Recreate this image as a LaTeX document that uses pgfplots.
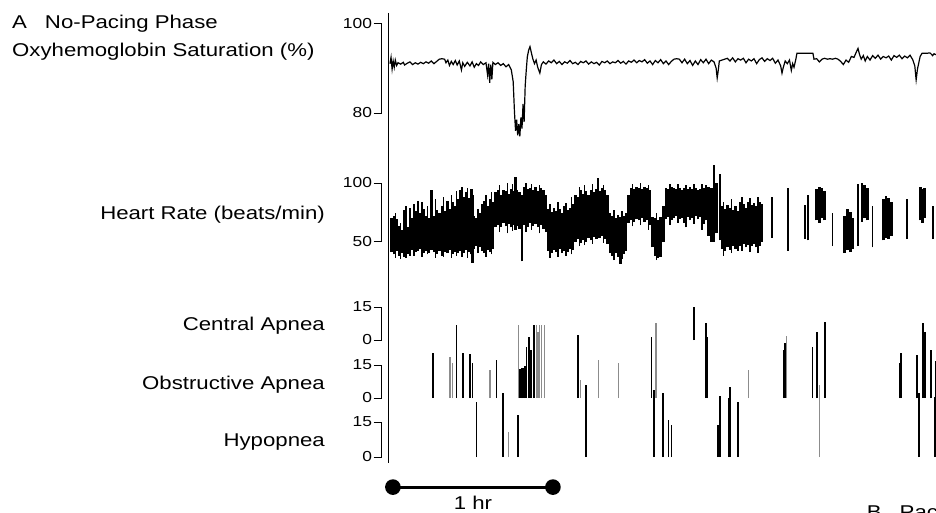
\documentclass[border=0pt]{standalone}
\usepackage{fontspec}
\setmainfont{Liberation Sans}[FakeStretch=1.2]
\usepackage{pgfplots}
\pgfplotsset{compat=1.18}
\newcommand\lab{\fontsize{18.5pt}{22pt}\selectfont}

\pgfplotsset{
  panel/.style={
    scale only axis, width=554.3pt, xmin=-3.1, xmax=204.75,
    anchor=south west, clip=false, enlargelimits=false,
    axis x line=none, axis y line*=left, xtick=\empty,
    tick align=outside, major tick length=8pt,
    axis line style={line width=0.9pt,-},
    every tick/.style={line width=0.9pt,black},
    yticklabel style={font=\fontsize{14.5pt}{16pt}\selectfont,inner sep=1.5pt},
    /pgf/number format/assume math mode=true,
  },
  dark/.style={ycomb,black,line width=1.7pt,mark=none},
  light/.style={ycomb,black!45,line width=1.1pt,mark=none},
  hr/.style={draw=none,mark=none,
    error bars/y dir=plus,error bars/y explicit,error bars/error mark=none,
    error bars/error bar style={draw=black,line width=#1}},
}

\begin{document}
\begin{tikzpicture}
\path[use as bounding box] (0,0) rectangle (936pt,512pt);

% oxyhemoglobin saturation
\begin{axis}[panel, at={(381.7pt,399pt)}, height=89.7pt, ymin=80, ymax=100, ytick={80,100}]
\addplot[black, line width=1.2pt] table[x=t, y=v] {
t v
0.0 91.0
0.4 92.4
0.8 89.8
1.2 91.6
1.6 90.2
2.0 91.8
2.5 90.6
3.0 91.2
4.0 90.9
5.0 91.3
5.5 90.7
6.5 91.1
7.5 91.4
8.5 90.8
9.5 91.2
10.5 90.9
11.5 91.3
12.5 91.0
13.5 91.4
14.5 91.1
15.5 91.6
16.5 91.0
17.5 91.5
18.5 92.0
19.5 92.1
20.5 92.0
21.0 91.2
21.7 91.8
22.3 90.6
23.0 91.5
23.7 90.8
24.5 91.7
25.2 90.7
26.0 91.6
26.8 89.6
27.3 91.2
28.0 90.4
29.0 91.3
30.0 90.5
30.8 91.4
31.6 90.2
32.4 91.0
33.2 90.6
34.0 91.4
35.0 90.8
36.0 91.2
36.6 88.5
37.0 91.0
37.4 86.7
37.8 90.8
38.2 87.5
38.6 91.3
39.5 90.8
40.5 91.2
41.5 90.6
42.5 91.0
43.5 90.3
44.5 90.8
45.5 89.6
46.2 87.0
46.7 80.0
47.1 76.0
47.5 78.5
47.9 75.0
48.3 77.5
48.7 74.8
49.1 79.0
49.5 76.5
49.9 82.0
50.3 78.0
50.7 86.0
51.1 89.5
51.5 92.5
52.0 94.0
52.5 94.8
53.0 93.5
53.6 92.0
54.2 91.0
54.8 91.8
55.4 90.2
56.2 88.9
56.8 90.8
57.5 91.4
58.5 90.9
59.5 91.6
60.5 91.2
61.5 91.8
62.5 91.0
63.5 91.5
64.5 90.8
65.5 91.4
66.5 91.1
67.5 91.7
68.5 91.0
69.5 91.3
70.5 90.8
71.5 91.5
72.5 91.2
73.5 91.6
74.5 90.9
75.5 91.4
76.5 91.0
77.5 91.3
78.5 90.7
79.5 91.5
80.5 91.2
81.5 91.6
82.5 91.0
83.5 91.4
84.5 91.2
85.5 91.7
86.5 91.1
87.5 91.5
88.5 90.9
89.5 91.6
90.5 91.3
91.5 91.8
92.5 91.2
93.5 91.7
94.5 91.4
95.5 91.9
96.5 91.1
97.5 91.6
98.5 90.8
99.5 91.7
100.5 91.2
101.5 91.9
102.5 91.0
103.5 91.6
104.5 90.8
105.5 91.5
106.5 92.0
107.5 92.1
108.5 92.0
109.5 91.2
110.5 92.0
111.5 91.0
112.5 91.7
113.5 90.6
114.5 91.6
115.5 90.8
116.5 91.9
117.5 91.2
118.5 92.0
119.5 91.0
120.5 91.8
121.5 91.4
122.3 90.0
122.7 87.8
123.1 89.5
123.5 91.6
124.5 91.8
125.5 92.0
126.5 92.2
127.5 91.6
128.5 92.3
129.5 91.4
130.5 92.1
131.5 91.8
132.5 92.2
133.5 91.2
134.5 92.0
135.5 91.6
136.5 92.1
137.5 91.0
138.5 91.9
139.5 92.3
140.5 91.5
141.5 92.1
142.5 91.7
143.5 92.2
144.5 91.1
145.5 91.8
146.5 90.5
147.0 88.9
147.5 90.2
148.2 91.6
149.0 91.0
149.8 91.8
150.5 89.5
151.0 91.0
151.5 90.2
152.2 92.0
152.6 93.3
158.6 93.3
159.0 92.0
160.0 92.1
161.0 91.4
162.0 92.0
163.0 92.2
164.0 92.0
165.0 92.1
166.0 92.0
167.0 92.2
168.0 92.0
169.0 91.5
170.0 90.8
171.0 91.8
172.0 91.3
173.0 92.6
174.0 92.4
174.8 93.5
175.5 94.4
176.0 93.2
176.7 92.0
177.5 92.8
178.2 91.6
179.0 92.6
180.0 91.8
181.0 92.8
182.0 92.2
183.0 92.9
184.0 92.0
185.0 92.6
186.0 92.3
187.0 92.7
188.0 91.8
189.0 92.8
190.0 92.4
191.0 92.9
192.0 92.1
193.0 92.7
194.0 92.3
195.0 92.9
196.0 91.9
196.8 90.5
197.3 87.4
197.8 89.8
198.3 91.2
198.8 92.6
199.5 93.3
201.0 93.3
202.5 93.4
203.5 92.8
204.0 93.2
204.75 93.0
};
\end{axis}

% heart rate: one vertical stroke per column, from lo to hi
\begin{axis}[panel, at={(381.7pt,270.5pt)}, height=58.5pt, ymin=50, ymax=100, ytick={50,100}]
\addplot[hr=2.9pt] table[x=t, y=lo, y error expr=\thisrow{hi}-\thisrow{lo}] {
t lo hi
0.5 41 70
1.5 39 72
2.5 42 69
3.5 38 63
4.5 40 60
5.5 37 77
6.5 39 62
7.5 38 79
8.5 43 70
9.5 41 76
10.5 42 85
11.5 44 74
12.5 40 78
13.5 42 72
14.5 40 70
15.5 43 94
16.5 41 72
17.5 39 77
18.5 42 74
19.5 38 80
20.5 41 76
21.5 40 85
22.5 43 78
23.5 39 84
24.5 41 80
25.5 40 86
26.5 42 94
27.5 40 88
28.5 43 92
29.5 41 87
30.5 39 95
31.0 32 90
31.5 44 72
32.5 46 70
33.5 45 74
34.5 42 82
35.5 40 85
36.5 43 80
37.5 41 86
38.5 44 84
39.5 62 92
40.5 64 94
41.5 62 90
42.5 66 94
43.5 63 93
44.5 65 91
45.5 62 95
46.5 64 93
47.0 60 105
47.5 63 94
48.5 61 92
49.5 33 90
50.5 64 97
51.5 62 95
52.5 66 96
53.5 63 94
54.5 65 97
55.5 62 93
56.5 64 96
57.5 61 94
58.5 58 90
59.5 42 78
60.5 40 75
61.5 43 79
62.5 41 76
63.5 44 78
64.5 40 74
65.5 42 80
66.5 41 77
67.5 44 79
68.5 43 82
69.5 50 90
70.5 52 88
71.5 49 94
72.5 51 91
73.5 50 93
74.5 53 90
75.5 51 94
76.5 54 92
77.5 52 95
78.0 55 104
78.5 53 93
79.5 55 96
80.5 52 94
81.5 48 90
82.5 40 74
83.5 38 72
84.5 40 70
85.5 37 73
86.5 31 71
87.5 39 72
88.5 42 74
89.5 66 90
90.5 68 96
91.5 67 95
92.5 69 97
93.5 68 96
94.5 70 95
95.5 67 97
96.5 68 96
97.5 64 94
98.5 45 71
99.5 38 70
100.5 36 68
101.5 37 71
102.5 50 80
103.5 69 96
104.5 71 95
105.5 68 97
106.5 70 96
107.5 72 95
108.5 69 96
109.5 70 94
110.5 66 96
111.5 71 95
112.5 68 97
113.5 70 95
114.5 72 96
115.5 69 94
116.5 71 95
117.5 65 96
118.5 68 98
119.5 55 97
120.5 50 96
122.5 57 100
124.5 44 80
125.5 42 78
126.5 45 81
127.5 43 79
128.5 46 77
129.5 44 80
130.5 42 76
131.5 46 84
132.5 48 82
133.5 45 79
134.5 47 84
135.5 46 81
136.5 48 83
137.5 45 80
138.5 46 84
139.5 50 82
160.0 68 95
161.0 66 97
162.0 70 96
163.0 68 93
170.6 40 72
171.6 43 78
172.6 41 75
173.6 44 70
177.0 67 100
178.0 70 98
179.0 68 96
185.0 51 86
186.0 53 89
187.0 52 87
188.0 55 84
198.8 68 97
199.8 66 95
200.6 70 96
};
% single strokes and outliers beyond the band
\addplot[hr=1.3pt] table[x=t, y=lo, y error expr=\thisrow{hi}-\thisrow{lo}] {
t lo hi
2.0 36 74
4.0 35 66
6.0 36 80
9.0 38 82
12.0 37 84
14.0 39 80
17.0 36 86
20.0 37 88
23.0 36 90
25.0 38 93
27.0 37 97
29.0 36 96
33.0 40 78
36.0 37 90
38.0 39 92
41.0 58 98
44.0 57 100
46.0 59 99
51.0 58 100
53.0 60 99
56.0 57 98
60.0 36 82
63.0 37 84
66.0 38 83
68.0 39 88
71.0 46 97
73.0 47 98
76.0 48 99
80.0 49 98
84.0 34 77
87.0 35 76
91.0 63 99
94.0 64 100
97.0 60 98
100.0 34 74
105.0 64 99
108.0 66 99
111.0 62 98
114.0 65 99
117.0 60 99
121.5 50 115
123.75 51 108
125.0 38 84
128.0 40 86
132.0 42 88
135.0 41 87
138.0 40 88
143.2 53 88
149.2 42 96
155.6 52 81
156.8 51 90
166.0 46 74
175.5 46 99
181.0 45 80
193.9 52 86
203.6 52 80
};
\end{axis}

% central apnea
\begin{axis}[panel, at={(381.7pt,172pt)}, height=33pt, ymin=0, ymax=15, ytick={0,15}]
\addplot[dark] coordinates {(114.1,15)};
\end{axis}

% obstructive apnea
\begin{axis}[panel, at={(381.7pt,114pt)}, height=33pt, ymin=0, ymax=15, ytick={0,15}]
\addplot[light] coordinates {
(22.5,18.8) (23.3,16) (37.5,12.7) (48.1,33.2) (55.0,33.2) (55.5,30)
(56.0,33.2) (56.9,33.2) (58.1,33.2) (71.5,8) (78.1,17.3) (85.6,15.8)
(99.75,34) (134.4,12.7) (148.7,28)
};
\addplot[dark] coordinates {
(16.2,20.3) (25.0,33.2) (27.5,20.3) (30.0,20.0) (31.0,16.0) (40.0,17.3)
(48.75,13.0) (49.4,13.5) (50.0,13.5) (50.6,14.5) (51.25,23.3) (51.9,26)
(52.25,27.9) (52.8,22) (53.1,21) (54.0,33.2) (70.6,28.6) (98.1,27.9)
(118.5,34) (119.1,27.9) (147.6,22) (148.1,25) (158.4,23.3) (160.0,30.1)
(163.1,34.7) (191.2,16) (191.5,20.3) (197.5,19.5) (200.0,34) (200.5,30)
(202.75,21.8) (204.6,17)
};
\end{axis}

% hypopnea
\begin{axis}[panel, at={(381.7pt,55pt)}, height=35pt, ymin=0, ymax=15, ytick={0,15}]
\addplot[light] coordinates {(44.4,10.8) (161.0,30.9)};
\addplot[dark] coordinates {
(32.5,23.7) (42.5,27.3) (48.1,18) (73.4,30.9) (99.0,28.7) (102.25,27.4)
(104.4,15.9) (105.6,13.7) (123.1,13.7) (123.75,26.1) (127.2,25.3)
(127.5,30.1) (130.6,23.7) (198.5,27.3) (204.4,25.9)
};
% one-hour scale bar
\addplot[black, line width=3pt, mark=*, mark size=6.3pt] coordinates {(1.1,-12.9) (61.1,-12.9)};
\end{axis}

\draw[line width=1.3pt] (388.3pt,499pt) -- (388.3pt,49pt);

\node[anchor=base west, font=\lab, inner sep=0pt] at (12pt,483.7pt) {A\hspace{18pt}No-Pacing Phase};
\node[anchor=base west, font=\lab, inner sep=0pt] at (12pt,455.3pt) {Oxyhemoglobin Saturation (\%)};
\node[anchor=base east, font=\lab, inner sep=0pt] at (325pt,292pt) {Heart Rate (beats/min)};
\node[anchor=base east, font=\lab, inner sep=0pt] at (325pt,181.3pt) {Central Apnea};
\node[anchor=base east, font=\lab, inner sep=0pt] at (325pt,122.7pt) {Obstructive Apnea};
\node[anchor=base east, font=\lab, inner sep=0pt] at (325pt,65.3pt) {Hypopnea};
\node[anchor=base, font=\lab, inner sep=0pt] at (473pt,2.5pt) {1 hr};
\node[anchor=base west, font=\lab, inner sep=0pt] at (866.7pt,-6.3pt) {B\hspace{18pt}Pacing Phase};
\end{tikzpicture}
\end{document}
